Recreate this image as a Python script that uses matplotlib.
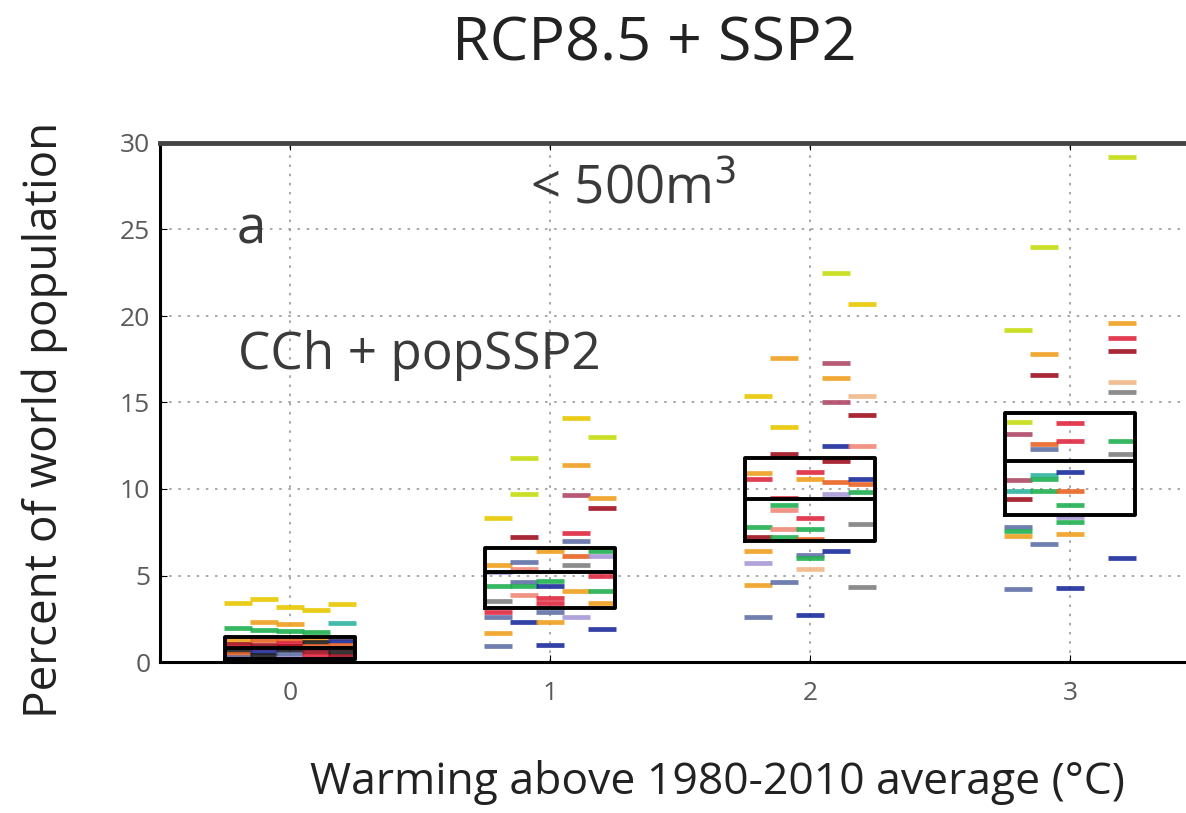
import matplotlib
matplotlib.use("Agg")
import matplotlib.pyplot as plt

plt.rcParams['font.family'] = ['Open Sans', 'DejaVu Sans']

# warming levels and the x-offsets of the five climate-model columns
levels = [0, 1, 2, 3]
offsets = [-0.2, -0.1, 0.0, 0.1, 0.2]

# colour codes used for the impact models
pal = {
    'Y': '#e8c800', 'YG': '#c4dc10', 'O': '#f0a020', 'DO': '#e86424',
    'R': '#e02840', 'DR': '#a01020', 'M': '#b04866', 'G': '#20b050',
    'T': '#30b4a0', 'B': '#1c2c9c', 'SB': '#6070a8', 'L': '#a898d8',
    'GR': '#808080', 'S': '#f08878', 'P': '#f0b888', 'K': '#202020',
}

# level 0 : column index, value (%), colour
col_0 = [0]*9 + [1]*9 + [2]*10 + [3]*9 + [4]*9
val_0 = [3.4, 1.95, 1.3, 1.05, 0.85, 0.65, 0.45, 0.3, 0.15,
         3.65, 2.3, 1.85, 1.25, 1.0, 0.8, 0.6, 0.4, 0.2,
         3.2, 2.2, 1.8, 1.3, 1.1, 0.9, 0.7, 0.45, 0.25, 0.12,
         3.0, 1.75, 1.35, 1.15, 0.95, 0.8, 0.55, 0.35, 0.15,
         3.35, 2.25, 1.4, 1.2, 1.0, 0.8, 0.6, 0.35, 0.15]
clr_0 = ['Y', 'G', 'O', 'DR', 'R', 'K', 'DO', 'SB', 'B',
         'Y', 'O', 'G', 'DO', 'DR', 'R', 'B', 'K', 'B',
         'Y', 'O', 'G', 'DO', 'R', 'DR', 'K', 'SB', 'L', 'B',
         'Y', 'G', 'O', 'K', 'DO', 'B', 'DR', 'R', 'B',
         'Y', 'T', 'O', 'B', 'DO', 'R', 'K', 'DR', 'B']

# level 1
col_1 = [0]*9 + [1]*9 + [2]*8 + [3]*9 + [4]*9
val_1 = [8.3, 5.6, 5.2, 4.4, 3.5, 2.9, 2.6, 1.7, 0.9,
         11.8, 9.7, 7.2, 5.8, 5.4, 4.6, 4.4, 3.9, 2.3,
         6.4, 4.7, 4.4, 3.7, 3.4, 2.9, 2.3, 1.0,
         14.1, 11.4, 9.65, 7.45, 7.0, 6.1, 5.6, 4.1, 2.6,
         13.0, 9.5, 8.9, 6.4, 6.1, 5.0, 4.1, 3.4, 1.9]
clr_1 = ['Y', 'O', 'L', 'G', 'GR', 'R', 'SB', 'O', 'SB',
         'YG', 'YG', 'DR', 'SB', 'S', 'SB', 'G', 'S', 'B',
         'O', 'G', 'B', 'R', 'R', 'SB', 'O', 'B',
         'Y', 'O', 'M', 'R', 'SB', 'DO', 'GR', 'O', 'L',
         'YG', 'O', 'DR', 'G', 'L', 'R', 'G', 'O', 'B']

# level 2
col_2 = [0]*9 + [1]*9 + [2]*9 + [3]*9 + [4]*9
val_2 = [15.4, 10.9, 10.6, 7.8, 7.2, 6.4, 5.7, 4.45, 2.6,
         17.6, 13.6, 12.0, 9.5, 9.1, 8.8, 7.7, 7.2, 4.6,
         11.0, 10.6, 8.3, 7.7, 7.1, 6.2, 6.0, 5.4, 2.7,
         22.5, 17.3, 16.4, 15.0, 12.5, 11.6, 10.4, 9.7, 6.4,
         20.7, 15.4, 14.3, 12.5, 10.6, 10.3, 9.8, 8.0, 4.35]
clr_2 = ['Y', 'O', 'R', 'G', 'DR', 'O', 'L', 'O', 'SB',
         'O', 'Y', 'DR', 'R', 'G', 'S', 'S', 'G', 'SB',
         'R', 'O', 'R', 'G', 'DO', 'SB', 'G', 'P', 'B',
         'YG', 'M', 'O', 'M', 'B', 'DR', 'DO', 'L', 'B',
         'Y', 'P', 'DR', 'S', 'B', 'DO', 'G', 'GR', 'GR']

# level 3 (no column at +0.1)
col_3 = [0]*10 + [1]*9 + [2]*9 + [4]*9
val_3 = [19.2, 13.9, 13.2, 10.5, 9.9, 9.4, 7.8, 7.6, 7.3, 4.2,
         24.0, 17.8, 16.6, 12.6, 12.3, 10.8, 10.6, 9.9, 6.8,
         13.8, 12.8, 11.0, 9.9, 9.1, 8.4, 8.1, 7.4, 4.3,
         29.2, 19.6, 18.7, 18.0, 16.2, 15.6, 12.8, 12.0, 6.0]
clr_3 = ['YG', 'YG', 'M', 'M', 'T', 'DR', 'SB', 'G', 'O', 'SB',
         'YG', 'O', 'DR', 'DO', 'SB', 'T', 'G', 'G', 'SB',
         'R', 'R', 'B', 'DO', 'G', 'L', 'G', 'O', 'B',
         'YG', 'O', 'R', 'DR', 'P', 'GR', 'G', 'GR', 'B']

cols = [col_0, col_1, col_2, col_3]
vals = [val_0, val_1, val_2, val_3]
clrs = [clr_0, clr_1, clr_2, clr_3]

# box statistics
box_q1 = [0.15, 3.1, 7.0, 8.5]
box_med = [0.8, 5.2, 9.4, 11.6]
box_q3 = [1.45, 6.6, 11.8, 14.4]

fig = plt.figure(figsize=(11.86, 8.13), dpi=100)
ax = fig.add_axes([160/1186, 151/813, 1040/1186, 519/813])

dash_w = 0.11
for lev, c, v, k in zip(levels, cols, vals, clrs):
    for gi, y, code in zip(c, v, k):
        x = lev + offsets[gi]
        ax.hlines(y, x - dash_w/2, x + dash_w/2, colors=pal[code],
                  linewidth=3.4, alpha=0.9, zorder=2)

stats = [dict(med=m, q1=a, q3=b, whislo=a, whishi=b, fliers=[])
         for a, m, b in zip(box_q1, box_med, box_q3)]
ax.bxp(stats, positions=levels, widths=0.5, showcaps=False, manage_ticks=False,
       boxprops=dict(color='black', linewidth=2.8),
       medianprops=dict(color='black', linewidth=2.8),
       whiskerprops=dict(linewidth=0), zorder=3)

ax.set_xlim(-0.5, 3.5)
ax.set_ylim(0, 30)
ax.set_xticks(levels)
ax.set_yticks([0, 5, 10, 15, 20, 25, 30])
ax.grid(True, linestyle=(0, (1.5, 4)), color='#999999', linewidth=1.2, zorder=0)
ax.tick_params(direction='in', length=5, top=True, labelsize=19,
               labelcolor='#5a5a5a')
ax.tick_params(axis='x', pad=14)
ax.tick_params(axis='y', pad=7)
for s in ['left', 'bottom']:
    ax.spines[s].set_linewidth(2.2)
    ax.spines[s].set_color('black')
ax.spines['top'].set_linewidth(3.5)
ax.spines['top'].set_color('#444444')
ax.spines['right'].set_visible(False)

ax.text(-0.15, 25.0, 'a', fontsize=38, color='#3a3a3a', ha='center', va='center')
ax.text(1.32, 27.3, '< 500m$^3$', fontsize=38, color='#3a3a3a', ha='center', va='center')
ax.text(-0.2, 17.7, 'CCh + popSSP2', fontsize=37, color='#3a3a3a', ha='left', va='center')

fig.text(0.552, 0.945, 'RCP8.5 + SSP2', fontsize=44, color='#222222',
         ha='center', va='center')
fig.text(0.605, 0.038, 'Warming above 1980-2010 average (°C)', fontsize=32,
         color='#222222', ha='center', va='center')
fig.text(0.038, 0.483, 'Percent of world population', fontsize=33,
         color='#222222', ha='center', va='center', rotation=90)

fig.savefig('out.png', dpi=100)
